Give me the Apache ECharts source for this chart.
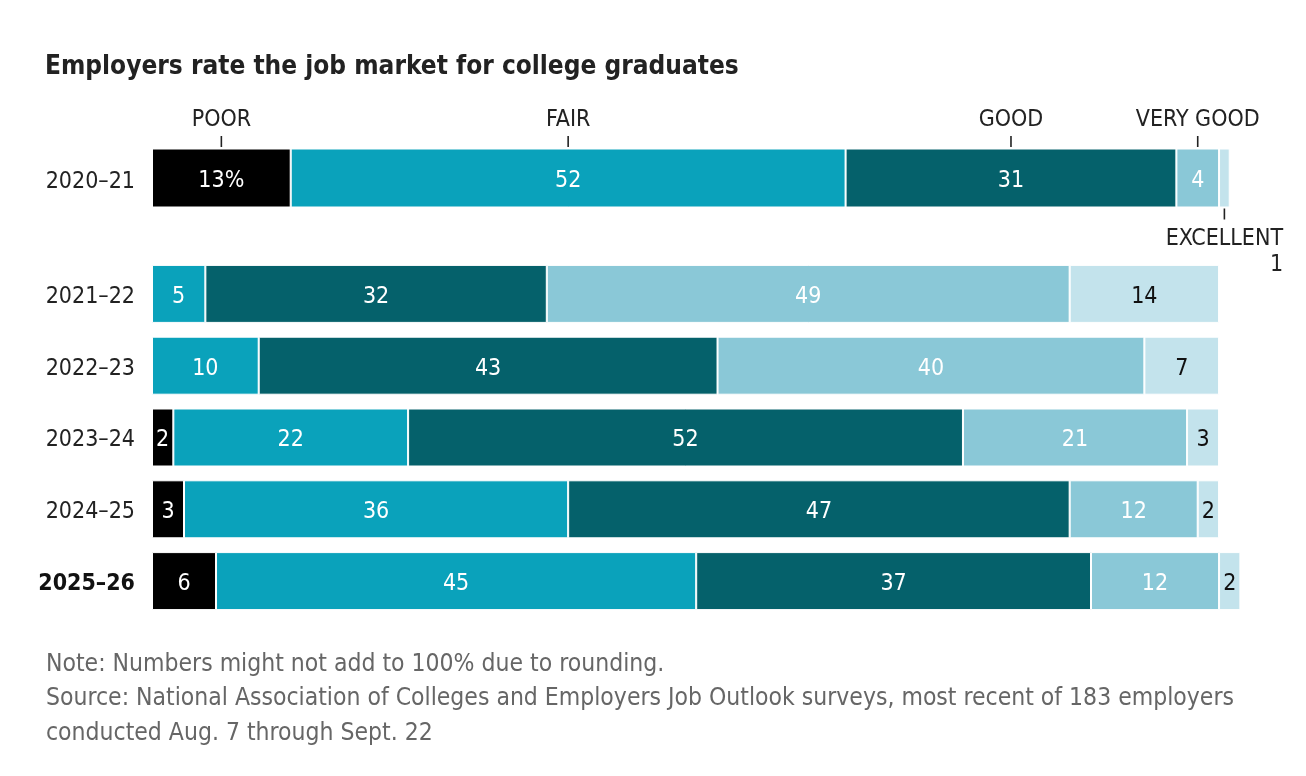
<!DOCTYPE html>
<html>
<head>
<meta charset="utf-8">
<script src="https://cdn.jsdelivr.net/npm/echarts@6/dist/echarts.min.js"></script>
<style>
  html, body { margin: 0; padding: 0; background: #fff; }
  #chart { width: 1306px; height: 776px; }
</style>
</head>
<body>
<div id="chart"></div>
<script>
// data
var years = ['2020–21', '2021–22', '2022–23', '2023–24', '2024–25', '2025–26'];
var ratings = ['POOR', 'FAIR', 'GOOD', 'VERY GOOD', 'EXCELLENT'];
var poor = [13, null, null, 2, 3, 6];
var fair = [52, 5, 10, 22, 36, 45];
var good = [31, 32, 43, 52, 47, 37];
var veryGood = [4, 49, 40, 21, 12, 12];
var excellent = [1, 14, 7, 3, 2, 2];

var values = [poor, fair, good, veryGood, excellent];
var colors = ['#000000', '#0aa2bb', '#05616b', '#8ac8d7', '#c3e3ec'];
var labelColors = ['#fff', '#fff', '#fff', '#fff', '#111'];
var FONT = '"Liberation Sans Narrow", "DejaVu Sans Condensed", sans-serif';

var chart = echarts.init(document.getElementById('chart'));

var series = [];
// first year (own grid)
values.forEach(function (arr, i) {
  series.push({
    type: 'bar',
    name: ratings[i],
    stack: 'first',
    xAxisIndex: 0,
    yAxisIndex: 0,
    barWidth: 59,
    data: [arr[0]],
    itemStyle: { color: colors[i], borderColor: '#fff', borderWidth: 1 },
    label: {
      show: i < 4,
      position: 'inside',
      offset: [0, 3],
      color: labelColors[i],
      fontFamily: FONT,
      fontSize: 23,
      formatter: i === 0 ? '{c}%' : '{c}'
    }
  });
});
// remaining years
values.forEach(function (arr, i) {
  series.push({
    type: 'bar',
    name: ratings[i],
    stack: 'rest',
    xAxisIndex: 1,
    yAxisIndex: 1,
    barWidth: 58,
    data: arr.slice(1),
    itemStyle: { color: colors[i], borderColor: '#fff', borderWidth: 1 },
    label: {
      show: true,
      position: 'inside',
      offset: [0, 3],
      color: labelColors[i],
      fontFamily: FONT,
      fontSize: 23
    }
  });
});

// category annotations at the midpoints of the first bar
var cum = 0;
var marks = values.map(function (arr, i) {
  var mid = cum + arr[0] / 2;
  cum += arr[0];
  return { value: [mid, years[0]], name: ratings[i], below: i === 4, v: arr[0] };
});
series.push({
  type: 'scatter',
  xAxisIndex: 0,
  yAxisIndex: 0,
  z: 5,
  silent: true,
  data: marks.map(function (m) {
    return {
      value: m.value,
      symbol: 'rect',
      symbolSize: [1.6, 11],
      symbolOffset: [0, m.below ? 36 : -36.5],
      itemStyle: { color: '#222', opacity: 1 },
      label: m.below ? {
        show: true,
        position: 'bottom',
        distance: 7,
        opacity: 1,
        formatter: '{a|' + m.name + '}\n{b|' + m.v + '}',
        rich: {
          a: { fontFamily: FONT, fontSize: 23, color: '#222', lineHeight: 26, align: 'center' },
          b: { fontFamily: FONT, fontSize: 23, color: '#222', lineHeight: 26, align: 'right' }
        }
      } : {
        show: true,
        position: 'top',
        distance: 4,
        opacity: 1,
        formatter: m.name,
        fontFamily: FONT,
        fontSize: 23,
        color: '#222'
      }
    };
  })
});

function yLabel(pad) {
  return {
    fontFamily: FONT,
    fontSize: 23,
    color: '#222',
    margin: 17,
    padding: [pad, 0, 0, 0],
    formatter: function (v) {
      return v === years[years.length - 1] ? '{b|' + v + '}' : v;
    },
    rich: { b: { fontFamily: FONT, fontSize: 23, fontWeight: 'bold', color: '#111' } }
  };
}

chart.setOption({
  animation: false,
  title: [
    {
      text: 'Employers rate the job market for college graduates',
      left: 40,
      top: 49,
      textStyle: { fontFamily: FONT, fontSize: 26, fontWeight: 'bold', color: '#222' }
    },
    {
      text: 'Note: Numbers might not add to 100% due to rounding.\n' +
            'Source: National Association of Colleges and Employers Job Outlook surveys, most recent of 183 employers\n' +
            'conducted Aug. 7 through Sept. 22',
      left: 41,
      top: 642,
      textStyle: { fontFamily: FONT, fontSize: 24.5, fontWeight: 'normal', color: '#666', lineHeight: 34.5 }
    }
  ],
  grid: [
    { left: 152, right: 65.6, top: 148, height: 60 },
    { left: 152, right: 65.6, top: 258, height: 359 }
  ],
  xAxis: [
    { type: 'value', gridIndex: 0, min: 0, max: 102, show: false },
    { type: 'value', gridIndex: 1, min: 0, max: 102, show: false }
  ],
  yAxis: [
    { type: 'category', gridIndex: 0, data: years.slice(0, 1),
      axisLine: { show: false }, axisTick: { show: false }, axisLabel: yLabel(9) },
    { type: 'category', gridIndex: 1, data: years.slice(1), inverse: true,
      axisLine: { show: false }, axisTick: { show: false }, axisLabel: yLabel(6) }
  ],
  series: series
});
</script>
</body>
</html>
